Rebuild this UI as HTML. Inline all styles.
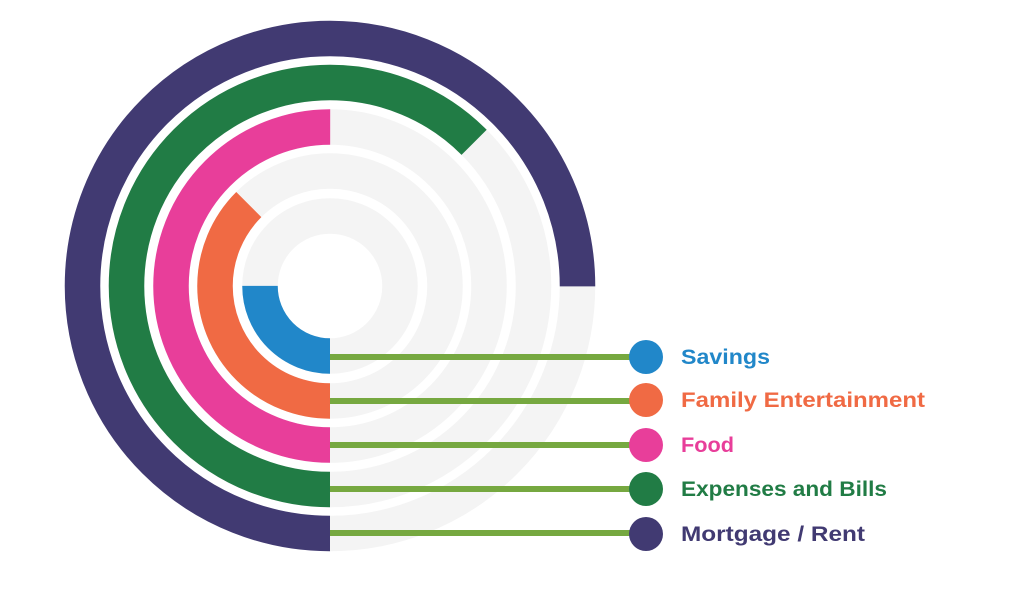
<!DOCTYPE html>
<html><head><meta charset="utf-8"><style>
html,body{margin:0;padding:0;background:#fff;width:1024px;height:611px;overflow:hidden}
text{font-family:"Liberation Sans",sans-serif;font-weight:bold;font-size:21px}
</style></head><body>
<svg width="1024" height="611" viewBox="0 0 1024 611" xmlns="http://www.w3.org/2000/svg">
<g fill="none" stroke-width="35.5">
<circle cx="330" cy="286" r="247.5" stroke="#f4f4f4"/>
<circle cx="330" cy="286" r="203.5" stroke="#f4f4f4"/>
<circle cx="330" cy="286" r="159" stroke="#f4f4f4"/>
<circle cx="330" cy="286" r="115" stroke="#f4f4f4"/>
<circle cx="330" cy="286" r="70" stroke="#f4f4f4"/>
<g transform="rotate(90 330 286)">
<circle cx="330" cy="286" r="247.5" stroke="#413a72" stroke-dasharray="1166.6 2000"/>
<circle cx="330" cy="286" r="203.5" stroke="#217c45" stroke-dasharray="799.2 2000"/>
<circle cx="330" cy="286" r="159" stroke="#e83e9a" stroke-dasharray="499.5 2000"/>
<circle cx="330" cy="286" r="115" stroke="#f06a44" stroke-dasharray="271 2000"/>
<circle cx="330" cy="286" r="70" stroke="#2187c9" stroke-dasharray="110 2000"/>
</g>
</g>
<g stroke="#76a840" stroke-width="6">
<line x1="330" y1="357" x2="640" y2="357"/>
<line x1="330" y1="401" x2="640" y2="401"/>
<line x1="330" y1="445" x2="640" y2="445"/>
<line x1="330" y1="489" x2="640" y2="489"/>
<line x1="330" y1="533" x2="640" y2="533"/>
</g>
<circle cx="646" cy="357" r="17" fill="#2187c9"/>
<circle cx="646" cy="400" r="17" fill="#f06a44"/>
<circle cx="646" cy="445" r="17" fill="#e83e9a"/>
<circle cx="646" cy="489" r="17" fill="#217c45"/>
<circle cx="646" cy="534" r="17" fill="#413a72"/>
<text x="681" y="364" fill="#2187c9" textLength="89" lengthAdjust="spacingAndGlyphs">Savings</text>
<text x="681" y="407" fill="#f06a44" textLength="244" lengthAdjust="spacingAndGlyphs">Family Entertainment</text>
<text x="681" y="452" fill="#e83e9a" textLength="53" lengthAdjust="spacingAndGlyphs">Food</text>
<text x="681" y="496" fill="#217c45" textLength="206" lengthAdjust="spacingAndGlyphs">Expenses and Bills</text>
<text x="681" y="541" fill="#413a72" textLength="184" lengthAdjust="spacingAndGlyphs">Mortgage / Rent</text>
</svg>
</body></html>
